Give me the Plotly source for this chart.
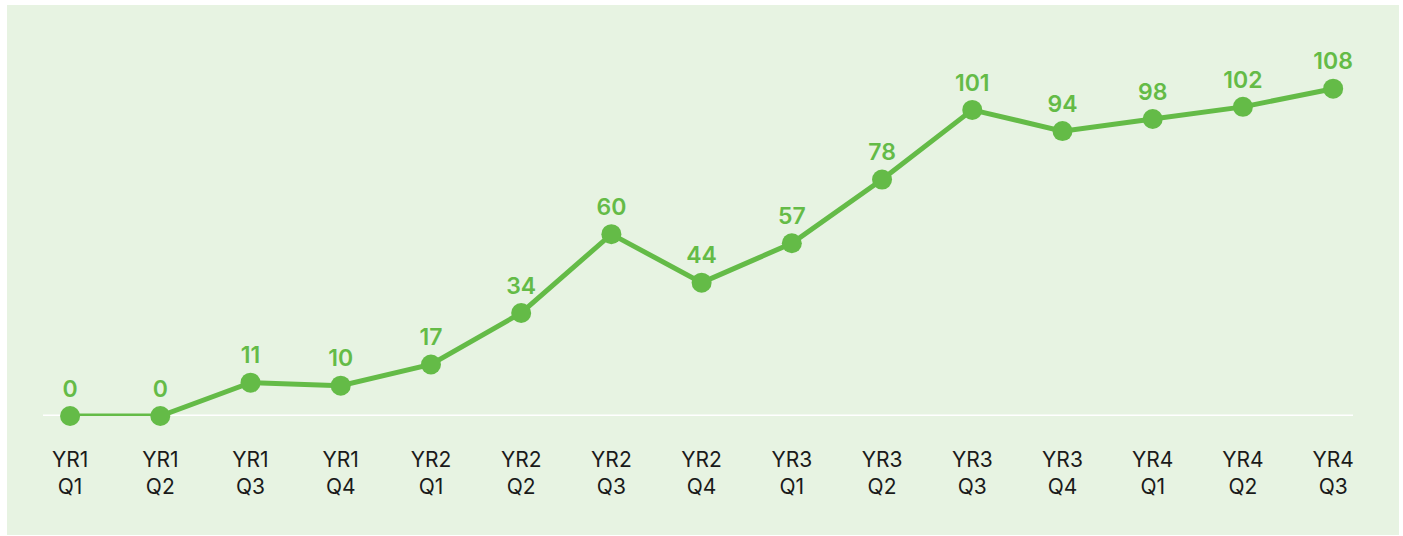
import plotly.graph_objects as go

# Cumulative values per quarter
quarters = ["YR1<br>Q1", "YR1<br>Q2", "YR1<br>Q3", "YR1<br>Q4",
            "YR2<br>Q1", "YR2<br>Q2", "YR2<br>Q3", "YR2<br>Q4",
            "YR3<br>Q1", "YR3<br>Q2", "YR3<br>Q3", "YR3<br>Q4",
            "YR4<br>Q1", "YR4<br>Q2", "YR4<br>Q3"]
values = [0, 0, 11, 10, 17, 34, 60, 44, 57, 78, 101, 94, 98, 102, 108]

GREEN = "#64bb47"
PANEL = "#e7f3e2"
FONT = "Inter, Lato, sans-serif"

W, H = 1403, 536
ML, MR, MT, MB = 43, 50, 22, 120
pw, ph = W - ML - MR, H - MT - MB

xs = list(range(len(values)))

fig = go.Figure()
fig.add_trace(go.Scatter(
    x=xs, y=values,
    mode="lines+markers+text",
    line=dict(color=GREEN, width=5),
    marker=dict(color=GREEN, size=20),
    text=[str(v) for v in values],
    textposition="top center",
    textfont=dict(family=FONT, size=23, color=GREEN, weight=600),
    cliponaxis=False,
    hoverinfo="skip",
))

# panel background
def px_to_paper_x(px):
    return (px - ML) / pw

def px_to_paper_y(py):
    return (H - MB - py) / ph

fig.add_shape(type="rect", xref="paper", yref="paper",
              x0=px_to_paper_x(7), x1=px_to_paper_x(1399),
              y0=px_to_paper_y(535), y1=px_to_paper_y(5),
              fillcolor=PANEL, line=dict(width=0), layer="below")
# baseline
fig.add_shape(type="line", xref="paper", yref="y",
              x0=0, x1=1, y0=0, y1=0,
              line=dict(color="white", width=3), layer="below")

fig.update_layout(
    width=W, height=H,
    margin=dict(l=ML, r=MR, t=MT, b=MB),
    paper_bgcolor="white",
    plot_bgcolor="rgba(0,0,0,0)",
    showlegend=False,
    font=dict(family=FONT),
    xaxis=dict(range=[-0.3, 14.22], tickmode="array", tickvals=xs,
               ticktext=quarters, showgrid=False, zeroline=False,
               showline=False, ticks="", ticklabelstandoff=29,
               tickfont=dict(family=FONT, size=21, color="#1a1a1a",
                             weight=400)),
    yaxis=dict(range=[0, 130], visible=False, showgrid=False,
               zeroline=False),
)

fig.write_html("out.html")
